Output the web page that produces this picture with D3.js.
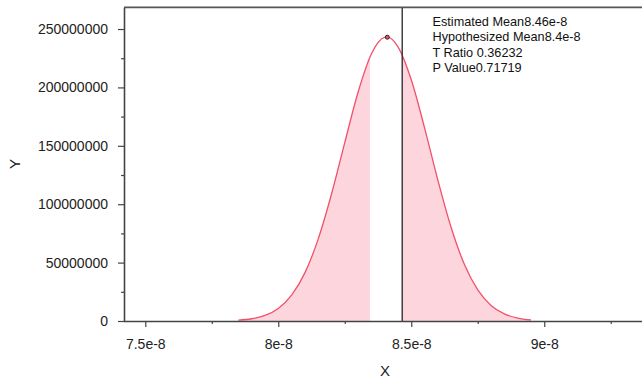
<!DOCTYPE html>
<html>
<head>
    <meta charset="UTF-8">
    <title></title>
    <script src="https://cdn.jsdelivr.net/npm/d3@7"></script>
    <style>
        html,body{margin:0;background:#fff;overflow:hidden;width:642px;height:380px;}
        svg{display:block;}
        text{font-family:"Liberation Sans",Arial,sans-serif;}
    </style>
</head>
<body>
<div id="chart"></div>
<script>
    // density curve
    var densX=[7.85e-8,7.90e-8,7.95e-8,8.00e-8,8.05e-8,8.10e-8,8.15e-8,8.20e-8,
        8.25e-8,8.30e-8,8.35e-8,8.40e-8,8.41e-8,8.45e-8,8.50e-8,8.55e-8,8.60e-8,8.65e-8,
        8.70e-8,8.75e-8,8.80e-8,8.85e-8,8.90e-8,8.95e-8];
    var densY=[708000,1930000,4770000,10760000,22100000,41200000,70100000,108500000,
        152800000,195900000,228600000,242800000,243000000,234700000,206500000,165400000,120600000,80000000,
        48300000,26600000,13300000,6050000,2510000,950000];
    var peak=[8.41e-8,243000000];
    var estMean=8.466e-8;
    var lowCut=8.345e-8;

    var xTicks=[7.5e-8,8e-8,8.5e-8,9e-8];
    var xTickLabels=['7.5e-8','8e-8','8.5e-8','9e-8'];
    var xMinor=[7.75e-8,8.25e-8,8.75e-8,9.25e-8];
    var yTicks=[0,50000000,100000000,150000000,200000000,250000000];
    var yMinor=[25000000,75000000,125000000,175000000,225000000];

    var statNames=['Estimated Mean','Hypothesized Mean','T Ratio ','P Value'];
    var statValues=['8.46e-8','8.4e-8','0.36232','0.71719'];

    var W=642,H=380;
    // plot area runs past the right edge of the window
    var pL=124,pR=680,pT=7.3,pB=321;

    var svg=d3.select('#chart').append('svg')
            .attr('width',W).attr('height',H)
            .style('overflow','hidden');

    svg.append('rect').attr('width',W).attr('height',H).attr('fill','#fff');

    var x=d3.scaleLinear().domain([7.42e-8,9.3675e-8]).range([pL,642]);
    var y=d3.scaleLinear().domain([0,268600000]).range([pB,pT]);

    var pts=densX.map(function(d,i){return [d,densY[i]]});

    // shaded tails
    var defs=svg.append('defs');
    var clip=defs.append('clipPath').attr('id','tails');
    clip.append('rect')
            .attr('x',pL).attr('y',0)
            .attr('width',x(lowCut)-pL).attr('height',pB);
    clip.append('rect')
            .attr('x',x(estMean)).attr('y',0)
            .attr('width',pR-x(estMean)).attr('height',pB);

    var area=d3.area()
            .x(function(d){return x(d[0])})
            .y0(y(0))
            .y1(function(d){return y(d[1])})
            .curve(d3.curveMonotoneX);
    svg.append('path')
            .datum(pts)
            .attr('d',area)
            .attr('fill','#fdd5dc')
            .attr('clip-path','url(#tails)');

    var line=d3.line()
            .x(function(d){return x(d[0])})
            .y(function(d){return y(d[1])})
            .curve(d3.curveMonotoneX);
    svg.append('path')
            .datum(pts)
            .attr('d',line)
            .attr('fill','none')
            .attr('stroke','#f2506a')
            .attr('stroke-width',1.3);

    // estimated mean line
    svg.append('line')
            .attr('x1',x(estMean)).attr('x2',x(estMean))
            .attr('y1',pT).attr('y2',pB)
            .attr('stroke','#333').attr('stroke-width',1.4);

    svg.append('circle')
            .attr('cx',x(peak[0])).attr('cy',y(peak[1]))
            .attr('r',2)
            .attr('fill','#f2506a')
            .attr('stroke','#222').attr('stroke-width',1);

    // axes
    svg.append('g')
            .attr('transform','translate('+pL+',0)')
            .call(d3.axisLeft(y).tickValues(yTicks).tickFormat(d3.format('d')).tickSize(6).tickSizeOuter(0).tickPadding(10));
    svg.append('g')
            .attr('transform','translate('+pL+',0)')
            .call(d3.axisLeft(y).tickValues(yMinor).tickFormat('').tickSize(3).tickSizeOuter(0))
            .select('.domain').remove();

    svg.append('g')
            .attr('transform','translate(0,'+pB+')')
            .call(d3.axisBottom(x).tickValues(xTicks)
                    .tickFormat(function(d,i){return xTickLabels[i]})
                    .tickSize(6).tickSizeOuter(0).tickPadding(12))
            .select('.domain').remove();
    svg.append('g')
            .attr('transform','translate(0,'+pB+')')
            .call(d3.axisBottom(x).tickValues(xMinor).tickFormat('').tickSize(3).tickSizeOuter(0))
            .select('.domain').remove();

    svg.selectAll('.domain').attr('stroke','#444').attr('stroke-width',1.6);
    svg.selectAll('.tick line').attr('stroke','#444').attr('stroke-width',1.2);
    svg.selectAll('.tick text')
            .attr('fill','#222')
            .style('font-size','14px')
            .style('font-family','"Liberation Sans",Arial,sans-serif');

    // bottom axis line and top frame line, both running off the right edge
    svg.append('line')
            .attr('x1',pL).attr('x2',pR)
            .attr('y1',pB+0.5).attr('y2',pB+0.5)
            .attr('stroke','#444').attr('stroke-width',1.6);
    svg.append('line')
            .attr('x1',pL).attr('x2',pR)
            .attr('y1',pT).attr('y2',pT)
            .attr('stroke','#555').attr('stroke-width',1.8);

    svg.append('text')
            .attr('x',385).attr('y',376)
            .attr('text-anchor','middle')
            .style('font-size','15px')
            .attr('fill','#222')
            .text('X');
    svg.append('text')
            .attr('transform','translate(20,164) rotate(-90)')
            .attr('text-anchor','middle')
            .style('font-size','15px')
            .attr('fill','#222')
            .text('Y');

    svg.selectAll('.stat')
            .data(statNames)
            .enter()
            .append('text')
            .attr('class','stat')
            .attr('x',432.5)
            .attr('y',function(d,i){return 25.5+i*15.6})
            .style('font-size','12.7px')
            .attr('fill','#111')
            .text(function(d,i){return d+statValues[i]});
</script>
</body>
</html>
